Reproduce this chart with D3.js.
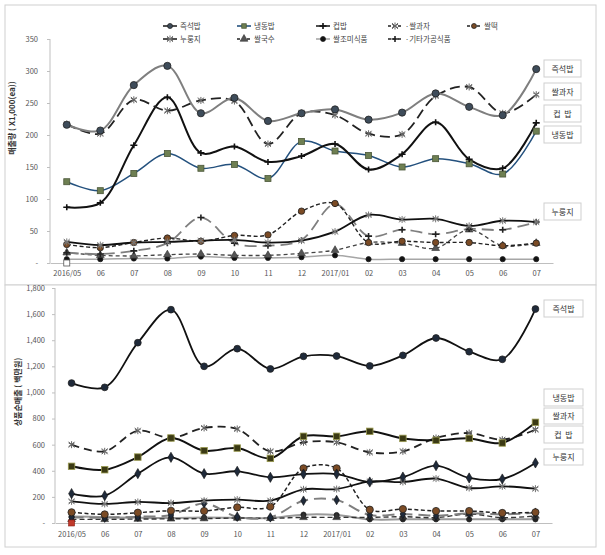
<!DOCTYPE html>
<html><head><meta charset="utf-8">
<script src="https://cdn.jsdelivr.net/npm/d3@7"></script>
<style>
body{margin:0;background:#fff}
text{font-family:"Noto Sans CJK KR","Liberation Sans",sans-serif}
</style>
</head><body>
<svg id="c" width="605" height="555"></svg>
<script>
// ---------- DATA ----------
const months = ["2016/05","06","07","08","09","10","11","12","2017/01","02","03","04","05","06","07"];
const seriesNames = ["즉석밥","냉동밥","컵밥","쌀과자","쌀떡","누룽지","쌀국수","쌀조미식품","기타가공식품"];
const legendLabels = ["즉석밥","냉동밥","컵밥","·쌀과자","쌀떡","누룽지","쌀국수","쌀조미식품","·기타가공식품"];

// Top panel: 매출량 (X1,000 ea)
const topInstant   = [216,207,278,308,234,258,222,234,240,224,235,265,244,231,303];
const topFrozen    = [127,113,140,171,148,154,132,190,175,168,150,163,155,139,206];
const topCup       = [87,94,184,259,172,182,158,167,186,146,170,220,162,148,219];
const topSnack     = [217,202,255,238,254,253,186,234,231,202,201,261,275,234,263];
const topTteok     = [29,24,32,39,34,43,44,81,93,32,34,32,32,27,31];
const topNurungji  = [33,28,32,33,35,36,32,35,49,75,68,69,58,66,64];
const topNoodle    = [16,12,11,13,14,12,12,15,20,32,31,23,52,27,31];
const topSeasoned  = [6,6,7,7,10,8,8,9,12,6,6,6,6,6,6];
const topOther     = [16,14,19,31,71,31,27,36,92,42,52,45,53,52,64];
const topTicks     = [0,50,100,150,200,250,300,350];
const topRightLabels = ["즉석밥","쌀과자","컵  밥","냉동밥","누룽지"];

// Bottom panel: 상품순매출 (백만원)
const botInstant   = [1072,1039,1381,1634,1200,1335,1180,1277,1279,1203,1284,1417,1312,1254,1639];
const botFrozen    = [434,408,505,651,554,574,495,664,664,702,648,633,648,613,771];
const botCup       = [225,209,378,503,378,396,350,375,375,314,352,439,345,337,460];
const botSnack     = [600,549,707,651,728,720,549,618,618,541,549,651,689,638,715];
const botTteok     = [82,66,79,94,92,120,125,419,419,102,107,92,92,77,82];
const botNurungji  = [166,146,161,153,171,179,171,258,260,319,314,340,268,281,263];
const botNoodle    = [28,28,30,32,34,38,36,43,43,43,48,41,69,41,54];
const botSeasoned  = [50,45,40,38,42,40,38,64,61,28,28,28,28,28,28];
const botOther     = [43,41,48,61,150,48,43,171,176,61,69,56,74,66,79];
const botTicks     = [0,200,400,600,800,1000,1200,1400,1600,1800];
const botRightLabels = ["즉석밥","냉동밥","쌀과자","컵  밥","누룽지"];

// ---------- DRAW ----------
const svg = d3.select("#c");
const FONT = '"Noto Sans CJK KR","Liberation Sans",sans-serif';

function drawMarker(g, type, x, y, st) {
  if (type === "circle") {
    g.append("circle").attr("cx", x).attr("cy", y).attr("r", st.r || 3.5)
      .attr("fill", st.fill).attr("stroke", st.mstroke || "#222").attr("stroke-width", 0.8);
  } else if (type === "square") {
    const s = st.size || 6;
    g.append("rect").attr("x", x - s/2).attr("y", y - s/2).attr("width", s).attr("height", s)
      .attr("fill", st.fill).attr("stroke", st.mstroke || "#333").attr("stroke-width", 0.8);
  } else if (type === "plus") {
    g.append("path").attr("d", `M${x-3.5},${y}H${x+3.5}M${x},${y-3}V${y+3}`)
      .attr("stroke", st.mstroke || "#111").attr("stroke-width", 1.6);
  } else if (type === "asterisk") {
    g.append("path").attr("d", d3.symbol(d3.symbolAsterisk, 34)())
      .attr("transform", `translate(${x},${y})`)
      .attr("fill", "none").attr("stroke", st.mstroke || "#777").attr("stroke-width", 1);
    g.append("path").attr("d", d3.symbol(d3.symbolX, 24)())
      .attr("transform", `translate(${x},${y})`)
      .attr("fill", "none").attr("stroke", st.mstroke || "#777").attr("stroke-width", 1);
  } else if (type === "triangle") {
    g.append("path").attr("d", d3.symbol(d3.symbolTriangle, 26)())
      .attr("transform", `translate(${x},${y})`)
      .attr("fill", st.fill || "#555").attr("stroke", "#333").attr("stroke-width", 0.6);
  } else if (type === "diamond") {
    g.append("path").attr("d", d3.symbol(d3.symbolDiamond, st.area || 30)())
      .attr("transform", `translate(${x},${y})`)
      .attr("fill", st.fill || "#1f2a3a").attr("stroke", "#111").attr("stroke-width", 0.6);
  }
}

function panel(cfg) {
  const g = svg.append("g");
  g.append("rect").attr("x", cfg.frame[0]).attr("y", cfg.frame[1])
    .attr("width", cfg.frame[2]).attr("height", cfg.frame[3])
    .attr("fill", "#fff").attr("stroke", "#d0d0d0").attr("stroke-width", 1);

  const x = d3.scalePoint().domain(d3.range(months.length)).range([cfg.x0, cfg.x1]).padding(0.5);
  const y = d3.scaleLinear().domain([0, cfg.ymax]).range([cfg.yb, cfg.yt]);

  const ya = g.append("g").attr("transform", `translate(${cfg.x0},0)`)
    .call(d3.axisLeft(y).tickValues(cfg.ticks).tickSize(3).tickPadding(cfg.ypad)
      .tickFormat(d => d === 0 ? "-" : d3.format(",")(d)));
  ya.select(".domain").attr("stroke", "#bfbfbf").attr("d", `M0,${cfg.yt}V${cfg.yb}`);
  ya.selectAll(".tick line").attr("stroke", "#bfbfbf");
  ya.selectAll("text").attr("fill", "#555").style("font-size", cfg.tickFs + "px").style("font-family", FONT);

  const xa = g.append("g").attr("transform", `translate(0,${cfg.yb})`)
    .call(d3.axisBottom(x).tickSize(0).tickPadding(cfg.xpad).tickFormat(i => months[i]));
  xa.select(".domain").attr("stroke", "#bfbfbf");
  xa.selectAll("text").attr("fill", "#555").style("font-size", cfg.tickFs + "px").style("font-family", FONT);

  g.append("text").attr("transform", `translate(${cfg.titleX},${cfg.titleY}) rotate(-90)`)
    .attr("text-anchor", "middle").attr("font-weight", "bold").attr("fill", "#333")
    .style("font-size", "8px").text(cfg.title);

  const line = d3.line().x((d, i) => x(i)).y(d => y(d)).curve(d3.curveCatmullRom.alpha(0.5));
  cfg.series.forEach(s => {
    g.append("path").datum(s.data).attr("d", line).attr("fill", "none")
      .attr("stroke", s.stroke).attr("stroke-width", s.sw || 1.6)
      .attr("stroke-dasharray", s.dash || null);
  });
  cfg.series.forEach(s => {
    s.data.forEach((v, i) => drawMarker(g, s.marker, x(i), y(v), s));
  });

  cfg.rightLabels.forEach((t, i) => {
    const b = cfg.boxes[i];
    g.append("rect").attr("x", b[0]).attr("y", b[1]).attr("width", b[2]).attr("height", b[3])
      .attr("fill", "#fff").attr("stroke", "#cfcfcf").attr("stroke-width", 1);
    g.append("text").attr("x", b[0] + b[2]/2).attr("y", b[1] + b[3]/2 + 3)
      .attr("text-anchor", "middle").attr("fill", "#333").style("font-size", "8px")
      .style("white-space", "pre").text(t);
  });
  return {g, x, y};
}

const topSeries = [
  {data: topSeasoned, stroke: "#a6a6a6", sw: 1.5, marker: "circle", fill: "#111", r: 2.6},
  {data: topNoodle, stroke: "#444", sw: 1.3, dash: "4,3", marker: "triangle", fill: "#555"},
  {data: topOther, stroke: "#7f7f7f", sw: 1.8, dash: "12,6", marker: "plus", mstroke: "#222"},
  {data: topTteok, stroke: "#222", sw: 1.4, dash: "4,2.5", marker: "circle", fill: "#7b4b25", r: 3.2},
  {data: topNurungji, stroke: "#111", sw: 1.8, marker: "asterisk", mstroke: "#777"},
  {data: topFrozen, stroke: "#24517e", sw: 1.5, marker: "square", fill: "#6e7f52", mstroke: "#4a5638", size: 6},
  {data: topCup, stroke: "#111", sw: 2, marker: "plus", mstroke: "#111"},
  {data: topSnack, stroke: "#222", sw: 1.8, dash: "10,5", marker: "asterisk", mstroke: "#666"},
  {data: topInstant, stroke: "#7f7f7f", sw: 2, marker: "circle", fill: "#3e4c5a", r: 3.6}
];
const topP = panel({
  frame: [5, 5, 591, 280], x0: 50, x1: 553, yb: 263, yt: 39, ymax: 350, ticks: topTicks,
  ypad: 9, xpad: 8, tickFs: 7.5, title: "매출량 ( X1,000(ea))", titleX: 15, titleY: 118,
  series: topSeries, rightLabels: topRightLabels,
  boxes: [[544,60,37,17],[544,83,37,17],[544,105,37,17],[544,126,37,17],[544,203,37,17]]
});
topP.g.append("rect").attr("x", topP.x(0) - 3).attr("y", topP.y(0) - 3).attr("width", 6).attr("height", 6)
  .attr("fill", "#fff").attr("stroke", "#555").attr("stroke-width", 0.8);

const legendStyles = [topInstant, topFrozen, topCup, topSnack, topTteok, topNurungji, topNoodle, topSeasoned, topOther]
  .map(d => topSeries.find(s => s.data === d));
const legendPos = [[163,26],[237,26],[316,26],[388,26],[467,26],[163,39],[237,39],[316,39],[388,39]];
const lg = svg.append("g");
legendLabels.forEach((t, i) => {
  const s = legendStyles[i];
  const [lx, ly] = legendPos[i];
  lg.append("line").attr("x1", lx).attr("x2", lx + 14).attr("y1", ly).attr("y2", ly)
    .attr("stroke", s.stroke === "#a6a6a6" ? "#a6a6a6" : (s.stroke === "#24517e" ? "#24517e" : "#222"))
    .attr("stroke-width", 1.6).attr("stroke-dasharray", s.dash ? "3,2" : null);
  drawMarker(lg, s.marker, lx + 7, ly, Object.assign({}, s, {r: 2.5, size: 4.5}));
  lg.append("text").attr("x", lx + 17).attr("y", ly + 3).attr("fill", "#444")
    .style("font-size", "7.5px").text(t);
});

const botSeries = [
  {data: botSeasoned, stroke: "#9a9a9a", sw: 2, marker: "circle", fill: "#222", r: 2.6},
  {data: botNoodle, stroke: "#333", sw: 1.4, dash: "5,3", marker: "triangle", fill: "#333"},
  {data: botOther, stroke: "#7f7f7f", sw: 2, dash: "12,6", marker: "diamond", fill: "#1f2a3a", area: 26},
  {data: botTteok, stroke: "#222", sw: 1.5, dash: "4,2.5", marker: "circle", fill: "#7b4b25", r: 3.6},
  {data: botNurungji, stroke: "#111", sw: 1.8, marker: "asterisk", mstroke: "#777"},
  {data: botCup, stroke: "#111", sw: 1.8, marker: "diamond", fill: "#1f2a3a", area: 30},
  {data: botSnack, stroke: "#222", sw: 1.8, dash: "8,5", marker: "asterisk", mstroke: "#666"},
  {data: botFrozen, stroke: "#111", sw: 2, marker: "square", fill: "#3b3a14", mstroke: "#9a9a50", size: 6.5},
  {data: botInstant, stroke: "#111", sw: 1.8, marker: "circle", fill: "#1f2a3a", r: 3.4}
];
const botP = panel({
  frame: [5, 285, 591, 262], x0: 55, x1: 552, yb: 523, yt: 288, ymax: 1800, ticks: botTicks,
  ypad: 7, xpad: 9, tickFs: 7.5, title: "상품순매출 ( 백만원)", titleX: 21, titleY: 392,
  series: botSeries, rightLabels: botRightLabels,
  boxes: [[544,300,39,17],[544,389,39,17],[544,408,39,16],[544,426,39,17],[544,449,39,16]]
});
botP.g.append("rect").attr("x", botP.x(0) - 3).attr("y", botP.y(0) - 3).attr("width", 6).attr("height", 6)
  .attr("fill", "#c0392b").attr("stroke", "#8a1f14").attr("stroke-width", 0.6);
</script>
</body></html>
